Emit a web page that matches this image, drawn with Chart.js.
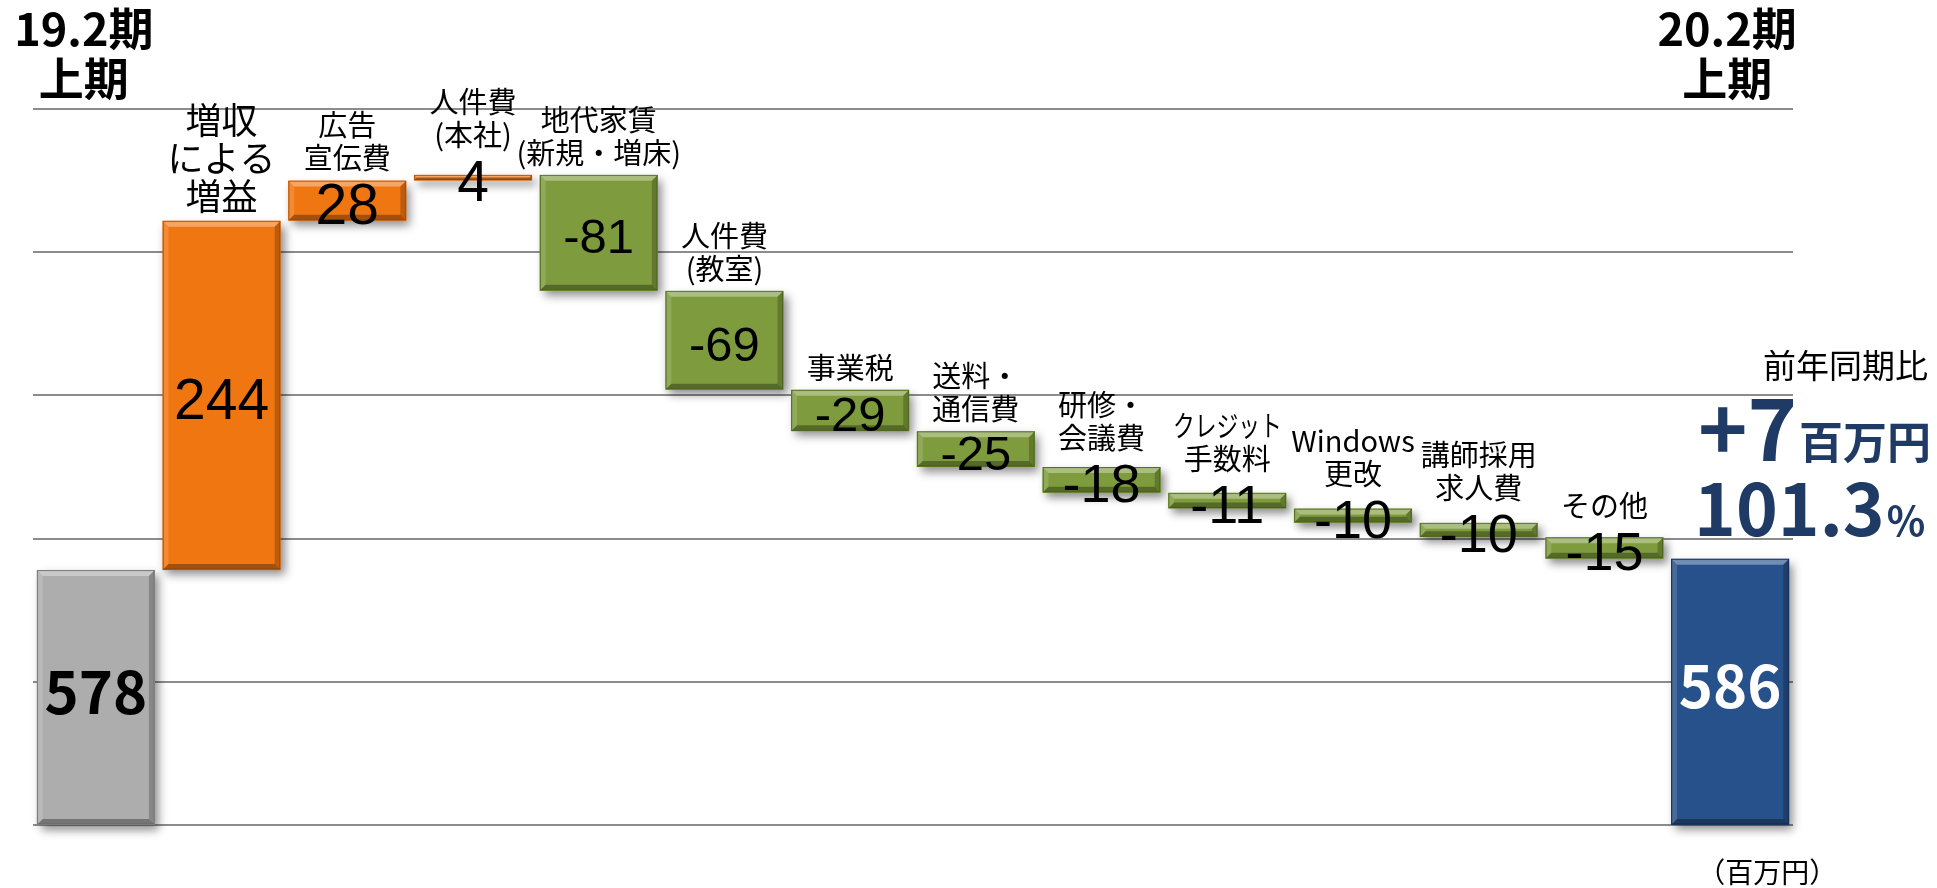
<!DOCTYPE html>
<html lang="ja">
<head>
<meta charset="utf-8">
<script src="https://cdn.jsdelivr.net/npm/chart.js@4.4.1/dist/chart.umd.min.js"></script>
<style>
  html, body { margin: 0; padding: 0; background: #fff; }
  #wrap { width: 1937px; height: 888px; position: relative; }
</style>
</head>
<body>
<div id="wrap"><canvas id="bridge"></canvas></div>
<script>
// 営業利益 増減要因 (百万円)
const categories = ['19.2期上期', '増収による増益', '広告宣伝費', '人件費(本社)', '地代家賃(新規・増床)', '人件費(教室)',
    '事業税', '送料・通信費', '研修・会議費', 'クレジット手数料', 'Windows更改', '講師採用求人費', 'その他', '20.2期上期'];
const labelLines = [
    [], ['増収', 'による', '増益'], ['広告', '宣伝費'], ['人件費', '(本社)'], ['地代家賃', '(新規・増床)'], ['人件費', '(教室)'],
    ['事業税'], ['送料・', '通信費'], ['研修・', '会議費'], ['クレジット', '手数料'], ['Windows', '更改'], ['講師採用', '求人費'], ['その他'], []
];
const startValue = 578;
const changes = [244, 28, 4, -81, -69, -29, -25, -18, -11, -10, -10, -15];
const endValue = 586;
const yTicks = [400, 500, 600, 700, 800, 900];
const periodTitles = [['19.2期', '上期'], ['20.2期', '上期']];
const yoyTitle = '前年同期比';
const yoyDiff = '+7';
const yoyRatio = '101.3';
const unitNote = '（百万円）';

// floating bars: start, steps, end
const axisMin = yTicks[0];
const ranges = [[axisMin, startValue]];
let running = startValue;
changes.forEach(c => {
    ranges.push(c >= 0 ? [running, running + c] : [running + c, running]);
    running += c;
});
ranges.push([axisMin, endValue]);

const last = ranges.length - 1;
const fills = ranges.map((r, i) => i === 0 ? '#ADADAD' : i === last ? '#27518A' : (changes[i - 1] >= 0 ? '#F07612' : '#7E9C3D'));
const edges = ranges.map((r, i) => i === 0 ? '#7d7d7d' : i === last ? '#17345e' : (changes[i - 1] >= 0 ? '#b4540a' : '#56721f'));
const valueSizes = [57, 57, 57, 49, 49, 49, 49, 54, 54, 54, 54, 54];

const CJK = '"Noto Sans CJK JP", "Noto Sans", sans-serif';
const NUM = '"Liberation Sans", Arial, sans-serif';
const NAVY = '#1F3A64';

function barBox(bar) {
    const p = bar.getProps(['x', 'y', 'base', 'width'], true);
    const top = Math.min(p.y, p.base), bottom = Math.max(p.y, p.base);
    return { left: p.x - p.width / 2, right: p.x + p.width / 2, top, bottom, x: p.x, w: p.width, h: bottom - top };
}

const bevelShadow = {
    id: 'bevelShadow',
    beforeDatasetsDraw(chart) {
        const ctx = chart.ctx;
        ctx.save();
        ctx.shadowColor = 'rgba(0,0,0,0.45)';
        ctx.shadowBlur = 9;
        ctx.shadowOffsetX = 4;
        ctx.shadowOffsetY = 5;
        chart.getDatasetMeta(0).data.forEach((bar, i) => {
            const b = barBox(bar);
            ctx.fillStyle = fills[i];
            ctx.fillRect(b.left, b.top, b.w, b.h);
        });
        ctx.restore();
    },
    afterDatasetsDraw(chart) {
        const ctx = chart.ctx;
        ctx.save();
        chart.getDatasetMeta(0).data.forEach(bar => {
            const b = barBox(bar);
            const d = Math.min(5, b.h / 2.5);
            const poly = (pts, col) => {
                ctx.beginPath();
                pts.forEach((q, k) => k ? ctx.lineTo(q[0], q[1]) : ctx.moveTo(q[0], q[1]));
                ctx.closePath();
                ctx.fillStyle = col;
                ctx.fill();
            };
            const l = b.left + 1, r = b.right - 1, t = b.top + 1, bt = b.bottom - 1;
            poly([[l, t], [r, t], [r - d, t + d], [l + d, t + d]], 'rgba(255,255,255,0.35)');
            poly([[l, t], [l + d, t + d], [l + d, bt - d], [l, bt]], 'rgba(255,255,255,0.15)');
            poly([[r, t], [r, bt], [r - d, bt - d], [r - d, t + d]], 'rgba(0,0,0,0.22)');
            poly([[l, bt], [r, bt], [r - d, bt - d], [l + d, bt - d]], 'rgba(0,0,0,0.32)');
        });
        ctx.restore();
    }
};

const textLayer = {
    id: 'textLayer',
    afterDraw(chart) {
        const ctx = chart.ctx;
        const bars = chart.getDatasetMeta(0).data;
        ctx.save();
        ctx.textAlign = 'center';

        bars.forEach((bar, i) => {
            const b = barBox(bar);
            const mid = (b.top + b.bottom) / 2;
            let valTop = b.top;
            if (i === 0 || i === last) {
                ctx.font = `bold 58px ${CJK}`;
                ctx.textBaseline = 'middle';
                ctx.fillStyle = i === 0 ? '#000' : '#fff';
                ctx.fillText(String(i === 0 ? startValue : endValue), b.x, mid - 6);
                return;
            }
            const fs = valueSizes[i - 1];
            const cy = mid + 3;
            ctx.font = `${fs}px ${NUM}`;
            ctx.textBaseline = 'alphabetic';
            ctx.fillStyle = '#000';
            ctx.fillText(String(changes[i - 1]), b.x, cy + fs * 0.358);
            valTop = Math.min(b.top, cy - fs * 0.42);

            // category label stacked above the bar
            const lines = labelLines[i];
            const big = i === 1;
            const lfs = big ? 36 : 29;
            const lh = big ? 38 : 33;
            ctx.font = `${lfs}px ${CJK}`;
            ctx.textBaseline = 'middle';
            const lastCenter = (big ? b.top - 24 : valTop - 22);
            lines.forEach((txt, k) => {
                const y = lastCenter - (lines.length - 1 - k) * lh;
                const w = ctx.measureText(txt).width;
                const maxW = /[ァ-ヶー]/.test(txt) && w > b.w ? b.w * 0.92 : undefined;
                if (maxW) ctx.fillText(txt, b.x, y, maxW); else ctx.fillText(txt, b.x, y);
            });
        });

        // period headers
        ctx.fillStyle = '#000';
        ctx.textBaseline = 'middle';
        [0, last].forEach((idx, n) => {
            const x = bars[idx].x + (n === 0 ? -12 : -3);
            ctx.font = `bold 45px ${CJK}`;
            ctx.fillText(periodTitles[n][0], x, 29);
            ctx.fillText(periodTitles[n][1], x, 79);
        });

        // year-on-year box on the right
        const area = chart.chartArea;
        ctx.textAlign = 'right';
        ctx.font = `33px ${CJK}`;
        ctx.fillText(yoyTitle, 1928, 365);

        ctx.textAlign = 'left';
        ctx.textBaseline = 'alphabetic';
        ctx.fillStyle = NAVY;
        ctx.font = `bold 84px ${CJK}`;
        ctx.fillText(yoyDiff, 1698, 461);
        let w = ctx.measureText(yoyDiff).width;
        ctx.font = `bold 44px ${CJK}`;
        ctx.fillText('百万円', 1698 + w + 2, 459);

        ctx.font = `bold 71px ${CJK}`;
        ctx.fillText(yoyRatio, 1694, 536);
        w = ctx.measureText(yoyRatio).width;
        ctx.font = `bold 40px ${CJK}`;
        ctx.fillText('%', 1694 + w + 2, 536);

        ctx.fillStyle = '#000';
        ctx.textAlign = 'center';
        ctx.textBaseline = 'middle';
        ctx.font = `28px ${CJK}`;
        ctx.fillText(unitNote, bars[last].x + 37, area.bottom + 47);
        ctx.restore();
    }
};

new Chart(document.getElementById('bridge'), {
    type: 'bar',
    data: {
        labels: categories,
        datasets: [{
            data: ranges,
            backgroundColor: fills,
            borderColor: edges,
            borderWidth: 1.5,
            borderSkipped: false,
            barPercentage: 0.94,
            categoryPercentage: 1.0
        }]
    },
    options: {
        responsive: true,
        maintainAspectRatio: false,
        animation: false,
        layout: { padding: { left: 33, right: 144, top: 109, bottom: 63 } },
        plugins: { legend: { display: false }, tooltip: { enabled: false } },
        scales: {
            x: { display: false },
            y: {
                min: yTicks[0],
                max: yTicks[yTicks.length - 1],
                afterBuildTicks: s => { s.ticks = yTicks.map(v => ({ value: v })); },
                afterFit: s => { s.width = 0; },
                ticks: { display: false },
                border: { display: false },
                grid: { color: '#8c8c8c', lineWidth: 2, drawTicks: false }
            }
        }
    },
    plugins: [bevelShadow, textLayer]
});
</script>
</body>
</html>
